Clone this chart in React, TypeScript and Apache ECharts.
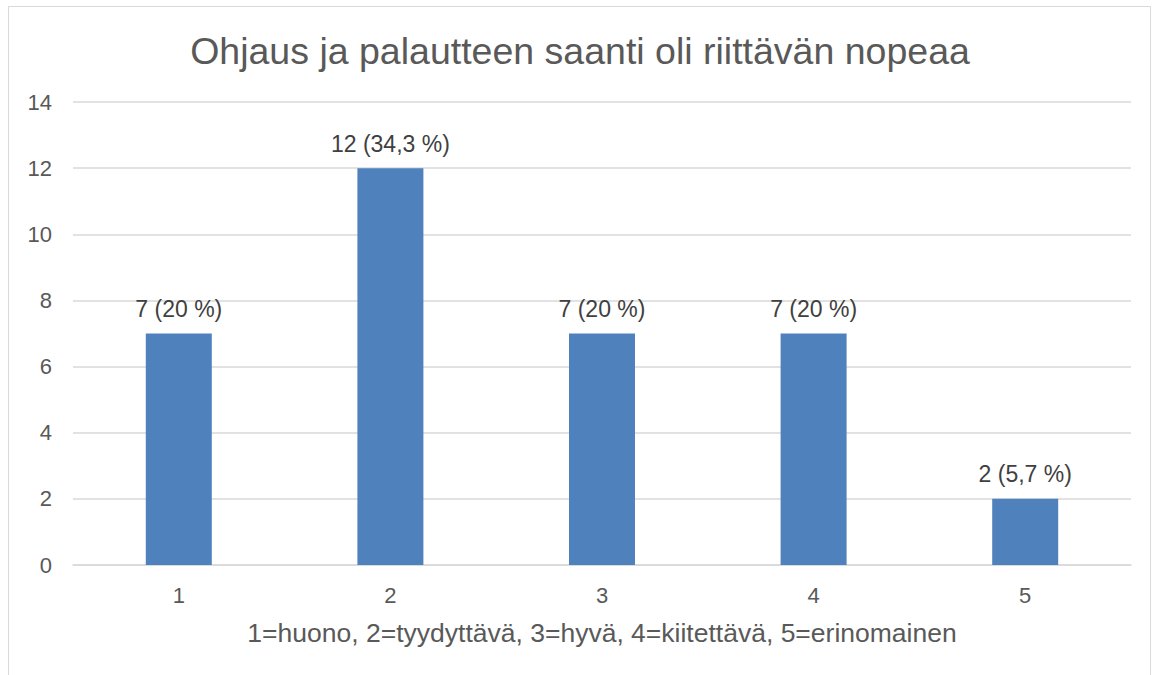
import React, { useEffect, useRef } from "react";
import * as echarts from "echarts";

const categories = ["1", "2", "3", "4", "5"];
const values = [7, 12, 7, 7, 2];
const valueLabels = ["7 (20 %)", "12 (34,3 %)", "7 (20 %)", "7 (20 %)", "2 (5,7 %)"];
const titleText = "Ohjaus ja palautteen saanti oli riittävän nopeaa";
const xAxisName = "1=huono, 2=tyydyttävä, 3=hyvä, 4=kiitettävä, 5=erinomainen";

export default function App() {
  const ref = useRef<HTMLDivElement>(null);
  useEffect(() => {
    if (!ref.current) return;
    const chart = echarts.init(ref.current, null, { renderer: "svg" });
    const font = "'Liberation Sans', Arial, sans-serif";
    chart.setOption({
      animation: false,
      textStyle: { fontFamily: font },
      title: {
        text: titleText,
        left: "center",
        top: 27,
        textStyle: { fontFamily: font, fontSize: 37.5, fontWeight: "normal", color: "#595959" },
      },
      graphic: [
        {
          type: "rect",
          shape: { x: 8.5, y: 6.5, width: 1142, height: 720 },
          style: { fill: "none", stroke: "#d9d9d9", lineWidth: 1 },
          silent: true,
        },
      ],
      grid: { left: 73, right: 29, top: 102, bottom: 110, containLabel: false },
      xAxis: {
        type: "category",
        data: categories,
        name: xAxisName,
        nameLocation: "middle",
        nameGap: 54,
        nameTextStyle: { fontFamily: font, fontSize: 26.5, color: "#595959" },
        axisLine: { lineStyle: { color: "#d9d9d9", width: 1.5 } },
        axisTick: { show: false },
        axisLabel: { fontFamily: font, fontSize: 22, color: "#595959", margin: 19 },
      },
      yAxis: {
        type: "value",
        min: 0,
        max: 14,
        interval: 2,
        axisLine: { show: false },
        axisTick: { show: false },
        splitLine: { lineStyle: { color: "#d9d9d9", width: 1.5 } },
        axisLabel: { fontFamily: font, fontSize: 22, color: "#595959", margin: 21 },
      },
      series: [
        {
          type: "bar",
          data: values,
          barWidth: 66,
          itemStyle: { color: "#4f81bd" },
          label: {
            show: true,
            position: "top",
            distance: 13,
            fontFamily: font,
            fontSize: 23,
            color: "#404040",
            formatter: (p: any) => valueLabels[p.dataIndex],
          },
        },
      ],
    });
    return () => chart.dispose();
  }, []);
  return (
    <div
      ref={ref}
      style={{ position: "fixed", left: 0, top: 0, width: 1160, height: 675, background: "#fff" }}
    />
  );
}
